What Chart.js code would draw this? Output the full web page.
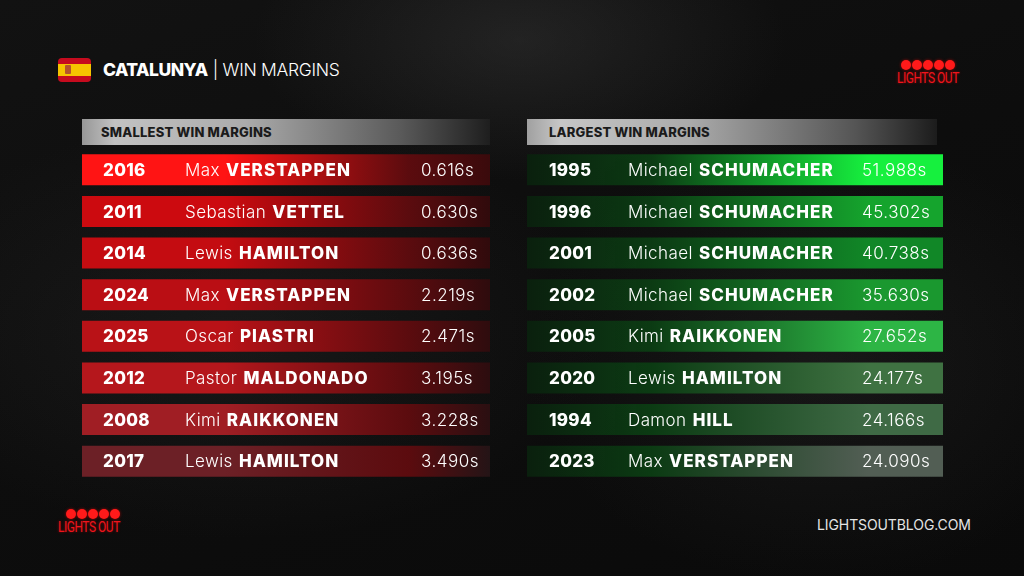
<!DOCTYPE html>
<html><head><meta charset="utf-8">
<script src="https://cdn.jsdelivr.net/npm/chart.js@4.4.1/dist/chart.umd.min.js"></script>
<style>
html,body{margin:0;padding:0;width:1024px;height:576px;overflow:hidden;background:#0b0b0b;font-family:Inter,'Open Sans',sans-serif;}
#bg{position:absolute;left:0;top:0;width:1024px;height:576px;background:
 radial-gradient(ellipse 380px 200px at 520px 40px, rgba(70,70,70,0.35), transparent 70%),
 radial-gradient(ellipse 520px 300px at 240px 330px, rgba(45,45,45,0.35), transparent 70%),
 radial-gradient(ellipse 420px 320px at 820px 360px, rgba(50,50,50,0.3), transparent 70%),
 linear-gradient(160deg,#121212 0%,#0d0d0d 50%,#0a0a0a 100%);}
.abs{position:absolute;}
.flag{left:58px;top:58px;width:33px;height:24px;border-radius:4px;background:linear-gradient(#c60b1e 0%,#c60b1e 26%,#f6c400 26%,#f6c400 74%,#c60b1e 74%);}
.emblem{left:65px;top:65px;width:6px;height:9px;border-radius:1px;background:#b5542c;}
.title{left:103px;top:59px;height:22px;line-height:22px;font-size:17.5px;color:#fff;white-space:nowrap;}
.title b{font-weight:800;letter-spacing:-0.5px;}
.title span{font-weight:300;letter-spacing:-0.3px;}
.hdr{height:26px;line-height:26px;font-size:13px;font-weight:800;color:#1b1b1b;box-sizing:border-box;padding-left:19px;white-space:nowrap;letter-spacing:0.2px;}
#hl{left:82px;top:119px;width:408px;background:linear-gradient(90deg,#979797 0%,#c2c2c2 8%,#ababab 40%,#5a5a5a 78%,#1e1e1e 100%);}
#hr{left:527px;top:119px;width:410px;padding-left:22px;background:linear-gradient(90deg,#a0a0a0 0%,#c6c6c6 8%,#aaaaaa 40%,#555 80%,#1c1c1c 100%);}
.dots{height:10px;white-space:nowrap;font-size:0;}
.dots i{display:inline-block;width:10px;height:10px;border-radius:50%;background:#ff1a1a;margin-right:1px;box-shadow:0 0 3px rgba(255,0,0,0.6);}
.lo{font-family:Roboto,sans-serif;font-weight:400;color:#f0141c;font-size:15px;line-height:14px;white-space:nowrap;transform-origin:0 0;transform:scaleX(0.8);letter-spacing:-0.6px;text-shadow:0 0 3px rgba(255,0,0,0.5);}
.site{left:817px;top:517px;font-size:14px;font-weight:400;color:#e4e4e4;line-height:16px;white-space:nowrap;letter-spacing:-0.1px;}
canvas{position:absolute;}
</style></head>
<body>
<div id="bg"></div>
<div class="abs flag"></div><div class="abs emblem"></div>
<div class="abs title"><b>CATALUNYA</b> <span>| WIN MARGINS</span></div>
<div class="abs dots" style="left:901px;top:60px"><i></i><i></i><i></i><i></i><i></i></div>
<div class="abs lo" style="left:897px;top:71px">LIGHTS OUT</div>
<div class="abs dots" style="left:66px;top:509px"><i></i><i></i><i></i><i></i><i></i></div>
<div class="abs lo" style="left:58px;top:520px">LIGHTS OUT</div>
<div class="abs site">LIGHTSOUTBLOG.COM</div>
<div class="abs hdr" id="hl">SMALLEST WIN MARGINS</div>
<div class="abs hdr" id="hr">LARGEST WIN MARGINS</div>
<canvas id="cl" width="408" height="333" style="left:82px;top:149px"></canvas>
<canvas id="cr" width="416" height="333" style="left:527px;top:149px"></canvas>
<script>
// ---- data ----
const smallYears = ['2016','2011','2014','2024','2025','2012','2008','2017'];
const smallFirst = ['Max','Sebastian','Lewis','Max','Oscar','Pastor','Kimi','Lewis'];
const smallLast  = ['VERSTAPPEN','VETTEL','HAMILTON','VERSTAPPEN','PIASTRI','MALDONADO','RAIKKONEN','HAMILTON'];
const smallMargins = [0.616,0.630,0.636,2.219,2.471,3.195,3.228,3.490];

const largeYears = ['1995','1996','2001','2002','2005','2020','1994','2023'];
const largeFirst = ['Michael','Michael','Michael','Michael','Kimi','Lewis','Damon','Max'];
const largeLast  = ['SCHUMACHER','SCHUMACHER','SCHUMACHER','SCHUMACHER','RAIKKONEN','HAMILTON','HILL','VERSTAPPEN'];
const largeMargins = [51.988,45.302,40.738,35.630,27.652,24.177,24.166,24.090];

// each row is drawn as a full-width band
const rowSpan = [0, 1];

// ---- styles ----
const redStarts = ['#ff1414','#cc0a0f','#c40c11','#ba0e14','#b91217','#b5171c','#a01e24','#6c2026'];
const redEnds   = ['#3a0a0c','#300a0c','#300a0c','#2e0b0d','#2e0c0e','#2c0d0f','#2a0f11','#241416'];
const greenEnds = ['#16f03e','#15a42d','#118727','#1a982f','#2db545','#3f7242','#3f6a45','#525e54'];

const FONT = 'Inter, "Open Sans", sans-serif';

function redGrad(chart, i){
  const a = chart.chartArea; if(!a) return redStarts[i];
  const g = chart.ctx.createLinearGradient(a.left,0,a.right,0);
  g.addColorStop(0, redStarts[i]);
  g.addColorStop(0.35, redStarts[i]);
  g.addColorStop(0.8, 'rgba(95,12,15,0.96)');
  g.addColorStop(1, redEnds[i]);
  return g;
}
function greenGrad(chart, i){
  const a = chart.chartArea; if(!a) return greenEnds[i];
  const g = chart.ctx.createLinearGradient(a.left,0,a.right,0);
  g.addColorStop(0, 'rgba(10,34,14,0.9)');
  g.addColorStop(0.3, 'rgba(12,62,20,0.95)');
  g.addColorStop(0.82, greenEnds[i]);
  g.addColorStop(1, greenEnds[i]);
  return g;
}

const rowText = {
  id:'rowText',
  afterDatasetsDraw(chart, args, o){
    const ctx = chart.ctx, meta = chart.getDatasetMeta(0), L = chart.chartArea.left;
    meta.data.forEach((bar,i)=>{
      const y = bar.y + 1;
      ctx.save();
      ctx.fillStyle = '#ffffff';
      ctx.textBaseline = 'middle';
      ctx.font = '800 17px ' + FONT;
      ctx.letterSpacing = '0.3px';
      ctx.fillText(o.years[i], L + o.xYear, y);
      ctx.font = '300 17px ' + FONT;
      ctx.letterSpacing = '0.4px';
      const f = o.first[i] + ' ';
      const fw = ctx.measureText(f).width;
      ctx.fillText(f, L + o.xName, y);
      ctx.font = '800 17px ' + FONT;
      ctx.letterSpacing = '1.05px';
      ctx.fillText(o.last[i], L + o.xName + fw + 1, y);
      ctx.font = '300 17px ' + FONT;
      ctx.letterSpacing = '0.5px';
      ctx.fillText(o.margins[i].toFixed(3) + 's', L + o.xTime, y);
      ctx.restore();
    });
  }
};

function makeChart(id, years, first, last, margins, gradFn, xs){
  return new Chart(document.getElementById(id), {
    type:'bar',
    data:{labels:years, datasets:[{
      data: years.map(()=>rowSpan),
      backgroundColor: c => gradFn(c.chart, c.dataIndex),
      borderWidth:0, barPercentage:0.745, categoryPercentage:1
    }]},
    options:{
      indexAxis:'y', responsive:false, animation:false, events:[],
      layout:{padding:0},
      plugins:{legend:{display:false}, tooltip:{enabled:false},
        rowText:{years, first, last, margins, xYear:xs[0], xName:xs[1], xTime:xs[2]}},
      scales:{x:{display:false,min:0,max:1}, y:{display:false}}
    },
    plugins:[rowText]
  });
}
makeChart('cl', smallYears, smallFirst, smallLast, smallMargins, redGrad, [21,103,339]);
makeChart('cr', largeYears, largeFirst, largeLast, largeMargins, greenGrad, [22,101,335]);
</script>
</body></html>
